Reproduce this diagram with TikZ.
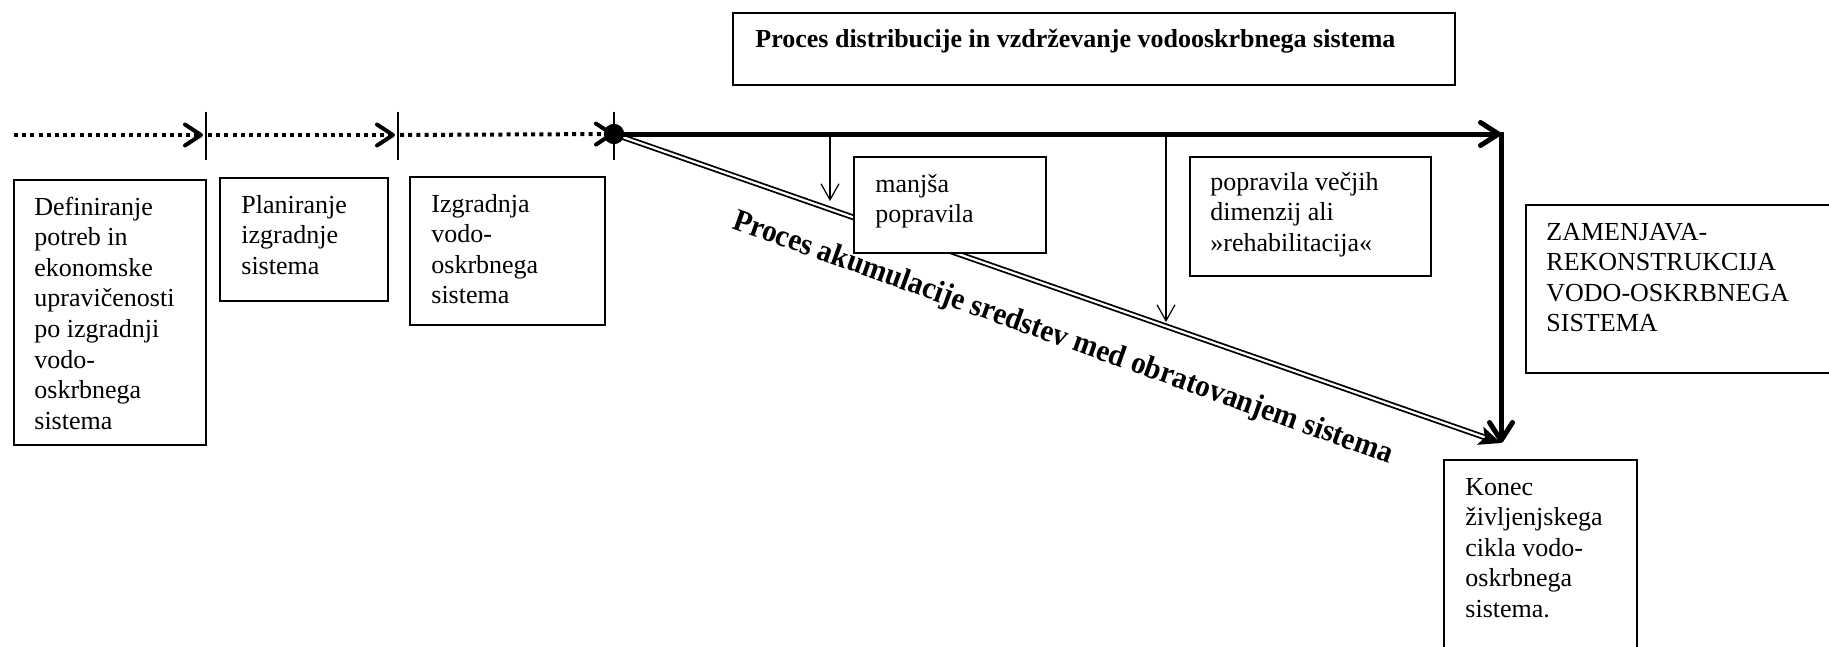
\documentclass[tikz,border=0pt]{standalone}
\usepackage{fontspec}
\setmainfont{Liberation Serif}
\usetikzlibrary{arrows.meta,fit,calc}
\newcommand{\mylines}[1]{\begin{tabular}[t]{@{}l@{}}#1\end{tabular}}
\begin{document}
\begin{tikzpicture}[x=0.5pt,y=-0.5pt,
  box/.style={draw, line width=0.7pt, fill=white, inner sep=0pt},
  txt/.style={anchor=base west, inner sep=0pt, font=\fontsize{13}{15.3}\selectfont},
  titletxt/.style={anchor=base west, inner sep=0pt, font=\fontsize{13}{15.3}\selectfont\bfseries},
  rottxt/.style={anchor=base west, inner sep=0pt, rotate=-19.7, font=\fontsize{15.6}{17}\selectfont\bfseries},
  dotline/.style={line width=2pt, dash pattern=on 2pt off 2.1pt, -{Straight Barb[length=8pt,width=10.5pt,round]}},
  tickline/.style={line width=0.8pt},
  thickarrow/.style={line width=2.5pt, -{Straight Barb[length=9pt,width=11.5pt,round]}},
  thinarrow/.style={line width=0.6pt, -{Straight Barb[length=8pt,width=9pt]}},
  dbl/.style={double, double distance=1.1pt, line width=0.9pt},
  dbltip/.style={line width=0.9pt, -{Stealth[length=11pt,width=9.5pt,inset=2.5pt]}},
  dotnode/.style={circle, fill, inner sep=0pt, minimum size=10pt}]
\useasboundingbox (0,0) rectangle (1829,647);
\clip (0,0) rectangle (1829,647);

% key points
\node[dotnode] (dot) at (614,134) {};
\coordinate (d0) at (14,135);
\coordinate (t1) at (206,135);
\coordinate (t2) at (398,135);
\coordinate (t1u) at (206,112); \coordinate (t1d) at (206,160);
\coordinate (t2u) at (398,112); \coordinate (t2d) at (398,160);
\coordinate (t3u) at (614,112); \coordinate (t3d) at (614,160);
\coordinate (corner) at (1501,134);
\coordinate (end) at (1501,443);
\coordinate (a1s) at (830,134); \coordinate (a1e) at (830,201);
\coordinate (a2s) at (1166,134); \coordinate (a2e) at (1166,322);

% dotted time line with ticks
\draw[dotline, shorten >=1.5pt] (d0) -- (t1);
\draw[dotline, shorten >=1.5pt, shorten <=1pt] (t1) -- (t2);
\draw[dotline, shorten <=1pt] (t2) -- (dot.center);
\draw[tickline] (t1u) -- (t1d);
\draw[tickline] (t2u) -- (t2d);
\draw[tickline] (t3u) -- (t3d);

% double line (accumulation)
\draw[dbl, shorten >=7pt] (dot.center) -- (end);
\coordinate (pretip) at ($(end)!8pt!(dot.center)$);
\draw[dbltip] (pretip) -- (end);

% thick process arrows
\draw[thickarrow] (dot.center) -- (corner);
\draw[thickarrow, shorten <=-1.25pt] (corner) -- (end);

% small arrows
\draw[thinarrow] (a1s) -- (a1e);
\draw[thinarrow] (a2s) -- (a2e);

\node[dotnode] (dot2) at (dot) {};

% boxes
\node[box, fit={(733,13) (1455,85)}] (title) {};
\node[titletxt] (titlet) at (755,48) {Proces distribucije in vzdrževanje vodooskrbnega sistema};

\node[box, fit={(14,180) (206,445)}] (b1) {};
\node[txt] (b1t) at (34,215) {\mylines{Definiranje\\potreb in\\ekonomske\\upravičenosti\\po izgradnji\\vodo-\\oskrbnega\\sistema}};

\node[box, fit={(220,178) (388,301)}] (b2) {};
\node[txt] (b2t) at (241,213) {\mylines{Planiranje\\izgradnje\\sistema}};

\node[box, fit={(410,177) (605,325)}] (b3) {};
\node[txt] (b3t) at (431,212) {\mylines{Izgradnja\\vodo-\\oskrbnega\\sistema}};

\node[box, fit={(854,157) (1046,253)}] (b4) {};
\node[txt] (b4t) at (875,192) {\mylines{manjša\\popravila}};

\node[box, fit={(1190,157) (1431,276)}] (b5) {};
\node[txt] (b5t) at (1210,190) {\mylines{popravila večjih\\dimenzij ali\\»rehabilitacija«}};

\node[box, fit={(1526,205) (1845,373)}] (b6) {};
\node[txt] (b6t) at (1546,240) {\mylines{ZAMENJAVA-\\REKONSTRUKCIJA\\VODO-OSKRBNEGA\\SISTEMA}};

\node[box, fit={(1444,460) (1637,665)}] (b7) {};
\node[txt] (b7t) at (1465,495) {\mylines{Konec\\življenjskega\\cikla vodo-\\oskrbnega\\sistema.}};

% rotated label
\node[rottxt] (acc) at (731,228) {\scalebox{0.94}[1]{Proces akumulacije sredstev med obratovanjem sistema}};
\end{tikzpicture}
\end{document}
